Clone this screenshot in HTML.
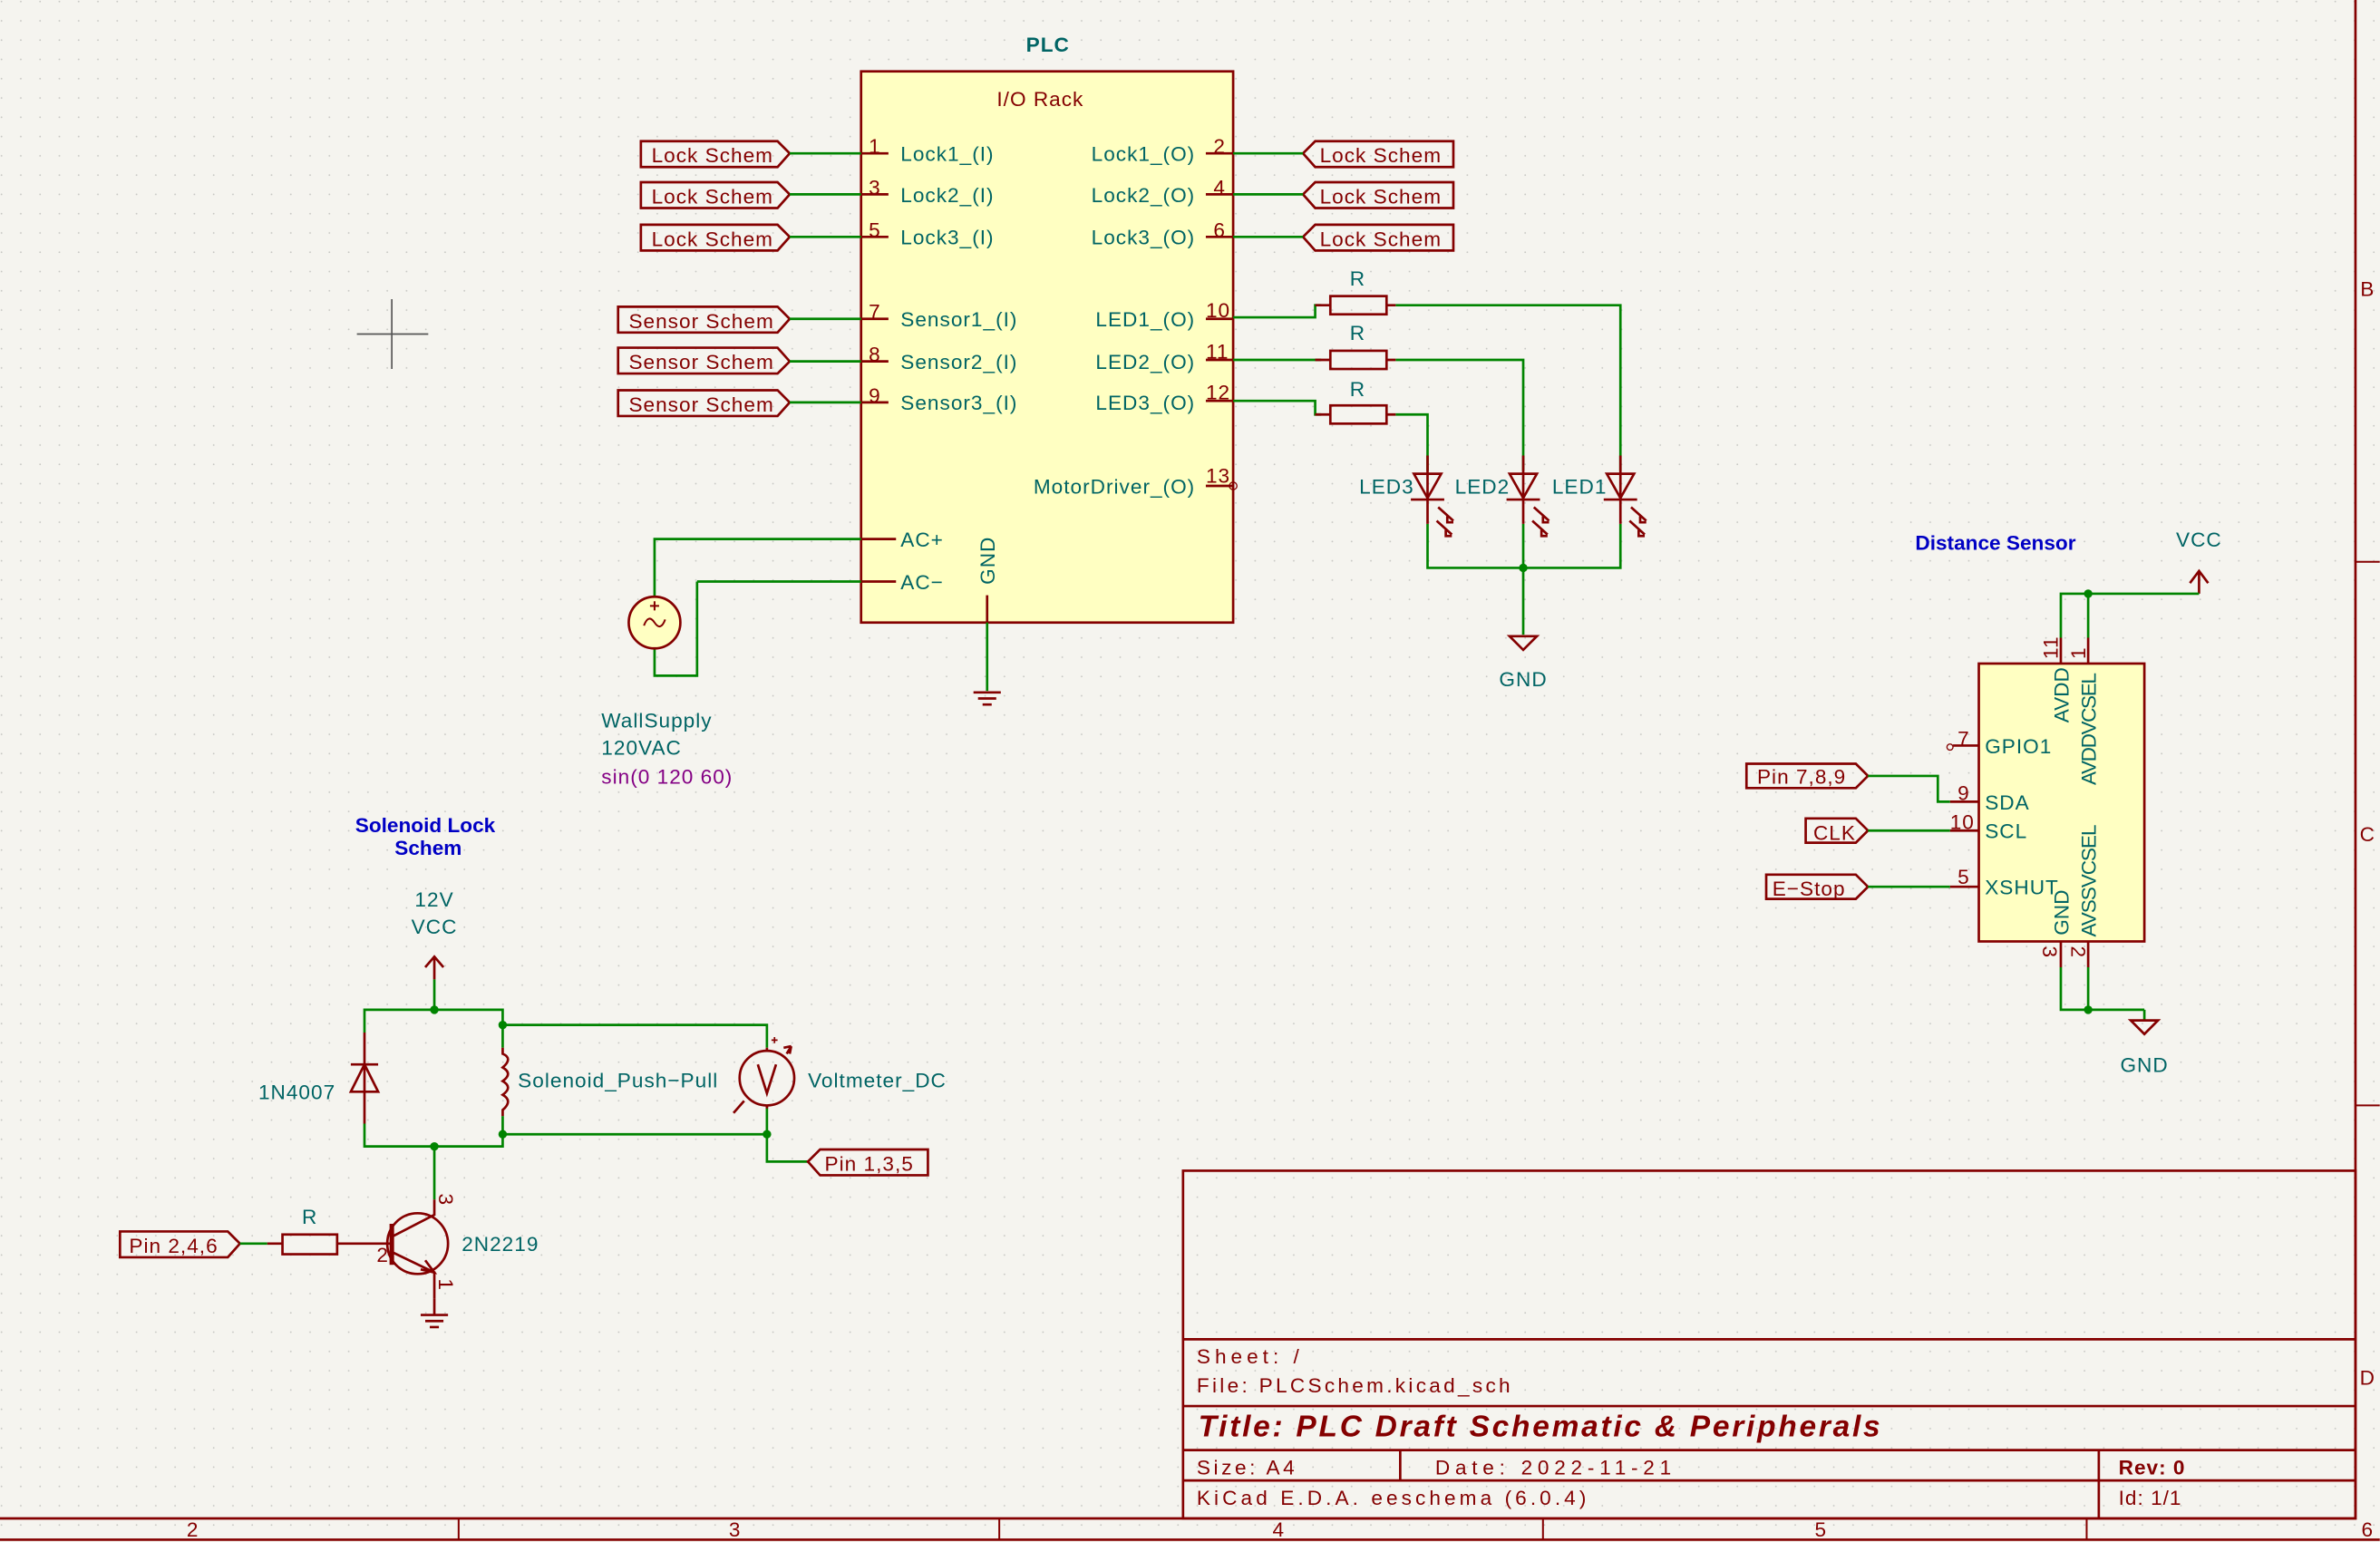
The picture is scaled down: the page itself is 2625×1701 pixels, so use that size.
<!DOCTYPE html>
<html><head><meta charset="utf-8"><style>
html,body{margin:0;padding:0;background:#f5f4ef;}
svg{display:block;}
text{font-family:"Liberation Sans",sans-serif;}
.t{fill:#006464;font-size:13.5px;letter-spacing:0.6px;}
.r{fill:#840000;font-size:13.5px;letter-spacing:0.6px;}
.b{fill:#0000c4;font-size:13.5px;font-weight:bold;}
.o{stroke:#840000;stroke-width:1.6;fill:none;}
.w{stroke:#008400;stroke-width:1.6;fill:none;}
.lb{stroke:#840000;stroke-width:1.6;fill:none;}
</style></head><body>
<svg width="2625" height="1701" viewBox="0 0 1567.16 1015.52" preserveAspectRatio="none" xmlns="http://www.w3.org/2000/svg">
<defs><pattern id="g" width="12.7" height="12.7" patternUnits="userSpaceOnUse"><circle cx="1" cy="1" r="0.55" fill="#c8c8c4"/></pattern></defs>
<rect width="1567.16" height="1015.52" fill="#f5f4ef"/>
<rect width="1567.16" height="1015.52" fill="url(#g)"/>

<path d="M235 220H282M258 197V243" stroke="#555" stroke-width="1"/>

<!-- PLC -->
<text x="690" y="34" class="t" text-anchor="middle" font-weight="bold" font-size="14">PLC</text>
<rect x="567" y="47" width="245" height="363" fill="#ffffc2" stroke="#840000" stroke-width="1.6"/>
<text x="685" y="70" class="r" text-anchor="middle">I/O Rack</text>

<g class="o"><path d="M567 101H585M567 128H585M567 156H585M567 210H585M567 238H585M567 265H585M567 355H590M567 383H590"/></g>
<g class="r" font-size="13"><text x="572" y="101">1</text><text x="572" y="128">3</text><text x="572" y="156">5</text><text x="572" y="210">7</text><text x="572" y="238">8</text><text x="572" y="265">9</text></g>
<g class="t"><text x="593" y="106">Lock1_(I)</text><text x="593" y="133">Lock2_(I)</text><text x="593" y="161">Lock3_(I)</text>
<text x="593" y="215">Sensor1_(I)</text><text x="593" y="243">Sensor2_(I)</text><text x="593" y="270">Sensor3_(I)</text>
<text x="593" y="360">AC+</text><text x="593" y="388">AC−</text></g>
<g class="o"><path d="M794 101H812M794 128H812M794 156H812M794 210H812M794 237H812M794 264H812M794 320H812"/></g>
<circle cx="812" cy="320" r="2.5" fill="none" stroke="#840000" stroke-width="0.8"/>
<g class="r" font-size="13"><text x="799" y="101">2</text><text x="799" y="128">4</text><text x="799" y="156">6</text><text x="794" y="209">10</text><text x="794" y="236">11</text><text x="794" y="263">12</text><text x="794" y="318">13</text></g>
<g class="t" text-anchor="end"><text x="787" y="106">Lock1_(O)</text><text x="787" y="133">Lock2_(O)</text><text x="787" y="161">Lock3_(O)</text>
<text x="787" y="215">LED1_(O)</text><text x="787" y="243">LED2_(O)</text><text x="787" y="270">LED3_(O)</text><text x="787" y="325">MotorDriver_(O)</text></g>
<text class="t" transform="translate(655,385) rotate(-90)">GND</text>
<path class="o" d="M650 392V410"/>

<g class="lb">
<path d="M422 93H512L520 101L512 110H422Z"/><path d="M422 120H512L520 128L512 137H422Z"/><path d="M422 148H512L520 156L512 165H422Z"/>
<path d="M407 202H512L520 210L512 219H407Z"/><path d="M407 229H512L520 238L512 246H407Z"/><path d="M407 257H512L520 265L512 274H407Z"/>
</g>
<g class="r"><text x="429" y="107">Lock Schem</text><text x="429" y="134">Lock Schem</text><text x="429" y="162">Lock Schem</text>
<text x="414" y="216">Sensor Schem</text><text x="414" y="243">Sensor Schem</text><text x="414" y="271">Sensor Schem</text></g>
<g class="w"><path d="M520 101H567M520 128H567M520 156H567M520 210H567M520 238H567M520 265H567"/></g>
<g class="lb"><path d="M858 101L866 93H957V110H866Z"/><path d="M858 128L866 120H957V137H866Z"/><path d="M858 156L866 148H957V165H866Z"/></g>
<g class="r"><text x="869" y="107">Lock Schem</text><text x="869" y="134">Lock Schem</text><text x="869" y="162">Lock Schem</text></g>
<g class="w"><path d="M812 101H858M812 128H858M812 156H858"/></g>

<!-- LED section -->
<g class="w"><path d="M812 209H866V201H870"/><path d="M812 237H870"/><path d="M812 264H866V273H870"/>
<path d="M919 201H1067V310"/><path d="M919 237H1003V310"/><path d="M919 273H940V310"/>
<path d="M940 345V374H1067V345M1003 345V418"/></g>
<circle cx="1003" cy="374" r="2.8" fill="#008400"/>
<g class="o">
<path d="M866 201H876M913 201H919M866 237H876M913 237H919M866 273H876M913 273H919"/>
<rect x="876" y="195" width="37" height="12"/><rect x="876" y="231" width="37" height="12"/><rect x="876" y="267" width="37" height="12"/>
<path d="M940 300V345M1003 300V345M1067 300V345"/>
<path d="M931 312H949L940 328Z M929 329H951"/><path d="M994 312H1012L1003 328Z M992 329H1014"/><path d="M1058 312H1076L1067 328Z M1056 329H1078"/>
<path d="M947 334L957 343M953 340V344H957 M946 343L956 352M952 349V353H956"/>
<path d="M1010 334L1020 343M1016 340V344H1020 M1009 343L1019 352M1015 349V353H1019"/>
<path d="M1074 334L1084 343M1080 340V344H1084 M1073 343L1083 352M1079 349V353H1083"/>
</g>
<g class="t" text-anchor="middle"><text x="894" y="188">R</text><text x="894" y="224">R</text><text x="894" y="261">R</text></g>
<g class="t"><text x="895" y="325">LED3</text><text x="958" y="325">LED2</text><text x="1022" y="325">LED1</text></g>
<path class="o" d="M994 419H1012L1003 428Z"/>
<text x="1003" y="452" class="t" text-anchor="middle">GND</text>

<!-- Wall supply -->
<g class="w"><path d="M431 393V355H567M459 383H567M459 383V445H431V427M650 410V455"/></g>
<circle cx="431" cy="410" r="17" fill="#ffffc2" stroke="#840000" stroke-width="1.6"/>
<path d="M424 412Q427 404 431 410T438 408M428 399H434M431 396V402" stroke="#840000" stroke-width="1.2" fill="none"/>
<path class="o" d="M641 456H659M644 460H656M647 464H653"/>
<text x="396" y="479" class="t">WallSupply</text>
<text x="396" y="497" class="t">120VAC</text>
<text x="396" y="516" fill="#840084" font-size="13.5" letter-spacing="0.6">sin(0 120 60)</text>

<!-- Distance sensor -->
<text x="1314" y="362" class="b" text-anchor="middle">Distance Sensor</text>
<text x="1448" y="360" class="t" text-anchor="middle">VCC</text>
<path class="o" d="M1448 376V391M1442 384L1448 376L1454 384"/>
<g class="w"><path d="M1357 420V391H1448M1375 391V420M1357 637V665H1412M1375 637V665M1412 665V672"/></g>
<circle cx="1375" cy="391" r="2.8" fill="#008400"/><circle cx="1375" cy="665" r="2.8" fill="#008400"/>
<path class="o" d="M1403 672H1421L1412 681Z"/>
<text x="1412" y="706" class="t" text-anchor="middle">GND</text>
<rect x="1303" y="437" width="109" height="183" fill="#ffffc2" stroke="#840000" stroke-width="1.6"/>
<g class="o"><path d="M1357 420V437M1375 420V437M1357 620V637M1375 620V637M1286 491H1303M1284 528H1303M1284 547H1303M1284 584H1303"/></g>
<circle cx="1284" cy="492" r="2" fill="none" stroke="#840000" stroke-width="0.8"/>
<g class="r" font-size="12.5"><text transform="translate(1355,434) rotate(-90)">11</text><text transform="translate(1373,434) rotate(-90)">1</text>
<text transform="translate(1345,623) rotate(90)">3</text><text transform="translate(1364,623) rotate(90)">2</text>
<text x="1289" y="491">7</text><text x="1289" y="527">9</text><text x="1284" y="546">10</text><text x="1289" y="582">5</text></g>
<g class="t"><text x="1307" y="496">GPIO1</text><text x="1307" y="533">SDA</text><text x="1307" y="552">SCL</text><text x="1307" y="589">XSHUT</text></g>
<g class="t" letter-spacing="0"><text transform="translate(1362,476) rotate(-90)" letter-spacing="0">AVDD</text><text transform="translate(1380,517) rotate(-90)" letter-spacing="0" textLength="74">AVDDVCSEL</text>
<text transform="translate(1362,616) rotate(-90)" letter-spacing="0">GND</text><text transform="translate(1380,617) rotate(-90)" letter-spacing="0" textLength="74">AVSSVCSEL</text></g>
<g class="lb"><path d="M1150 503H1222L1230 511L1222 519H1150Z"/><path d="M1189 539H1222L1230 547L1222 555H1189Z"/><path d="M1163 576H1222L1230 584L1222 592H1163Z"/></g>
<g class="r"><text x="1157" y="516">Pin 7,8,9</text><text x="1194" y="553">CLK</text><text x="1167" y="590">E−Stop</text></g>
<g class="w"><path d="M1230 511H1276V528H1284M1230 547H1284M1230 584H1284"/></g>

<!-- Solenoid -->
<text x="280" y="548" class="b" text-anchor="middle">Solenoid Lock</text>
<text x="282" y="563" class="b" text-anchor="middle">Schem</text>
<text x="286" y="597" class="t" text-anchor="middle">12V</text>
<text x="286" y="615" class="t" text-anchor="middle">VCC</text>
<path class="o" d="M286 630V645M280 637L286 630L292 637"/>
<g class="w"><path d="M286 645V665M240 680V665H331V690M240 740V755H331V735M331 675H505V690M331 747H505V765H532M505 728V747M286 755V790"/></g>
<g fill="#008400"><circle cx="286" cy="665" r="2.8"/><circle cx="331" cy="675" r="2.8"/><circle cx="286" cy="755" r="2.8"/><circle cx="331" cy="747" r="2.8"/><circle cx="505" cy="747" r="2.8"/></g>
<g class="o"><path d="M240 680V740M231 701H249M231 719H249L240 701Z"/>
<path d="M331 690V694Q338 697 331 703Q338 707 331 712Q338 716 331 721Q338 725 331 731V735"/>
<circle cx="505" cy="710" r="18"/><path d="M505 690V692M505 728V730M483 733L490 725M518 694L521 689M521 689L516 690M521 689L520 694M499 701L505 720L511 701"/>
<path d="M508 685H512M510 683V687" stroke-width="1"/>
</g>
<g class="lb"><path d="M532 765L540 757H611V774H540Z"/><path d="M79 811H150L158 819L150 828H79Z"/></g>
<text x="543" y="771" class="r">Pin 1,3,5</text>
<text x="85" y="825" class="r">Pin 2,4,6</text>
<text x="221" y="724" class="t" text-anchor="end">1N4007</text>
<text x="341" y="716" class="t">Solenoid_Push−Pull</text>
<text x="532" y="716" class="t">Voltmeter_DC</text>
<g class="w"><path d="M158 819H176"/></g>
<g class="o"><path d="M176 819H186M222 819H258"/><rect x="186" y="813" width="36" height="13"/>
<circle cx="275" cy="819" r="20"/><path d="M258 806V833" stroke-width="3"/><path d="M259 814L286 800V790M259 825L286 838V855M280 830L286 838L277 836"/>
<path d="M277 866H295M280 870H292M283 874H289M286 855V866"/></g>
<text x="204" y="806" class="t" text-anchor="middle">R</text>
<text x="304" y="824" class="t">2N2219</text>
<text x="248" y="831" class="r" font-size="12.5">2</text>
<text transform="translate(289,786) rotate(90)" class="r" font-size="12">3</text>
<text transform="translate(289,842) rotate(90)" class="r" font-size="12">1</text>

<!-- Frame -->
<g stroke="#840000" fill="none">
<path d="M1551 0V1000H0M0 1014H1567" stroke-width="1.6"/>
<path d="M1551 370H1567M1551 728H1567M302 1000V1014M658 1000V1014M1016 1000V1014M1374 1000V1014" stroke-width="1.2"/>
<rect x="779" y="771" width="772" height="229" stroke-width="1.6"/>
<path d="M779 882H1551M779 926H1551M779 955H1551M779 975H1551M922 955V975M1382 955V1000" stroke-width="1.6"/>
</g>
<g class="r"><text x="1559" y="195" text-anchor="middle">B</text><text x="1559" y="554" text-anchor="middle">C</text><text x="1559" y="912" text-anchor="middle">D</text>
<text x="127" y="1012" text-anchor="middle">2</text><text x="484" y="1012" text-anchor="middle">3</text><text x="842" y="1012" text-anchor="middle">4</text><text x="1199" y="1012" text-anchor="middle">5</text><text x="1559" y="1012" text-anchor="middle">6</text>
<text x="788" y="898" textLength="68">Sheet: /</text><text x="788" y="917" textLength="207">File: PLCSchem.kicad_sch</text>
<text x="789" y="946" font-size="20" font-weight="bold" font-style="italic" textLength="449" letter-spacing="0">Title: PLC Draft Schematic &amp; Peripherals</text>
<text x="788" y="971" textLength="65">Size: A4</text><text x="945" y="971" textLength="156">Date: 2022-11-21</text>
<text x="1395" y="971" font-weight="bold">Rev: 0</text>
<text x="788" y="991" textLength="257">KiCad E.D.A.  eeschema (6.0.4)</text><text x="1395" y="991">Id: 1/1</text></g>
</svg>
</body></html>
